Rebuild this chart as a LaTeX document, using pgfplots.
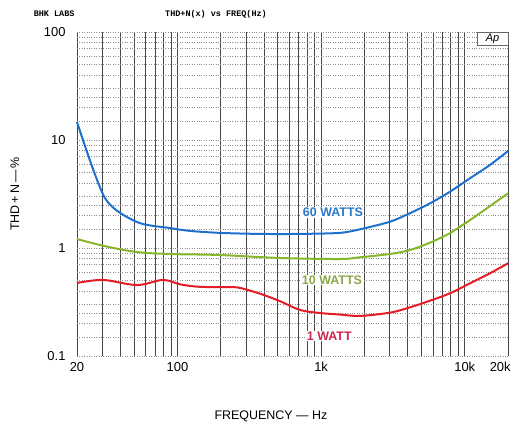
\documentclass[border=0pt]{standalone}
\usepackage{fontspec}
\setmainfont{Liberation Sans}
\newfontfamily\dotfont{Liberation Mono}
\usepackage{pgfplots}
\pgfplotsset{compat=1.18}

\definecolor{cblue}{RGB}{30,112,205}
\definecolor{cgreen}{RGB}{135,182,40}
\definecolor{cred}{RGB}{228,28,38}
\definecolor{lblue}{RGB}{40,120,200}
\definecolor{lgreen}{RGB}{140,168,70}
\definecolor{lred}{RGB}{200,40,80}

\begin{document}
\begin{tikzpicture}
\begin{axis}[
    at={(0,0)}, anchor=south west,
    scale only axis,
    width=431bp, height=324bp,
    xmode=log, ymode=log,
    xmin=20, xmax=20000,
    ymin=0.1, ymax=100,
    xtick={20,100,1000,10000,20000},
    xticklabels={20,100,1k,10k,\hspace*{-1.2em}20k},
    ytick={0.1,1,10,100},
    yticklabels={0.1,1,10,100},
    minor xtick={30,40,50,60,70,80,90,200,300,400,500,600,700,800,900,
                 2000,3000,4000,5000,6000,7000,8000,9000},
    minor ytick={0.15,0.2,0.25,0.3,0.4,0.5,0.6,0.7,0.8,0.9,
                 1.5,2,2.5,3,4,5,6,7,8,9,
                 15,20,25,30,40,50,60,70,80,90},
    grid=both,
    major x grid style={black!72, line width=0.7pt},
    minor x grid style={black!72, line width=0.7pt},
    major y grid style={black!45, dotted, line width=0.5pt},
    minor y grid style={black!45, dotted, line width=0.5pt},
    axis line style={draw=none},
    major tick length=0pt, minor tick length=0pt,
    /pgf/number format/assume math mode=true,
    tick label style={font=\fontsize{13}{15}\selectfont},
    yticklabel style={xshift=-8bp},
    xticklabel style={yshift=-3bp},
    xlabel={FREQUENCY — Hz},
    ylabel={THD\,+\,N\,—\,\%},
    label style={font=\fontsize{12.5}{14}\selectfont},
    xlabel style={at={(axis description cs:0.45,-0.185)}, anchor=center},
    ylabel style={at={(axis description cs:-0.144,0.5)}, anchor=center},
    clip=false,
]

% 60 W
\addplot[cblue, line width=2pt, smooth, tension=0.45] coordinates {
    (20,14.7) (31.3,2.90) (52.3,1.74) (88.8,1.53) (122,1.44) (198,1.38)
    (375,1.35) (713,1.35) (1353,1.38) (1864,1.49) (3013,1.75) (4150,2.10)
    (5725,2.59) (7890,3.32) (10870,4.42) (14970,5.87) (20000,7.9)
};

% 10 W
\addplot[cgreen, line width=2pt, smooth, tension=0.55] coordinates {
    (20,1.21) (31.3,1.04) (52.3,0.918) (88.8,0.88) (198,0.861) (517,0.808)
    (1353,0.791) (1864,0.82) (3013,0.88) (4150,0.958) (5725,1.12)
    (7890,1.37) (9250,1.57) (12750,2.10) (20000,3.21)
};

% 1 W
\addplot[cred, line width=2pt, smooth, tension=0.55] coordinates {
    (20,0.474) (30.3,0.506) (52.3,0.454) (79.3,0.506) (105,0.46) (143,0.437)
    (221,0.435) (270,0.428) (375,0.378) (517,0.322) (713,0.267) (982,0.250)
    (1353,0.242) (1864,0.235) (3013,0.252) (4150,0.282) (5725,0.325)
    (7890,0.381) (10870,0.471) (14970,0.583) (20000,0.722)
};

\node[fill=white, inner sep=1pt, text=lblue, font=\fontsize{12.5}{14}\bfseries]
    at (axis cs:1209,2.15) {60 WATTS};
\node[fill=white, inner sep=1pt, text=lgreen, font=\fontsize{12.5}{14}\bfseries]
    at (axis cs:1190,0.506) {10 WATTS};
\node[fill=white, inner sep=1pt, text=lred, font=\fontsize{12.5}{14}\bfseries]
    at (axis cs:1140,0.153) {1 WATT};

\draw[black!60, line width=0.5pt, fill=white]
    (rel axis cs:0.928,1) -- (rel axis cs:0.928,0.96) -- (rel axis cs:1,0.96)
    -- (rel axis cs:1,1) -- cycle;
\node[font=\fontsize{11}{12}\selectfont\itshape] at (rel axis cs:0.964,0.98) {Ap};

\node[font=\dotfont\bfseries\fontsize{8.5}{9}\selectfont]
    at (axis description cs:-0.053,1.056) {BHK LABS};
\node[font=\dotfont\bfseries\fontsize{8.5}{9}\selectfont]
    at (axis description cs:0.3225,1.056) {THD+N(x) vs FREQ(Hz)};
\end{axis}
\path[use as bounding box] (-77bp,-70bp) rectangle (442bp,356bp);
\end{tikzpicture}
\end{document}
